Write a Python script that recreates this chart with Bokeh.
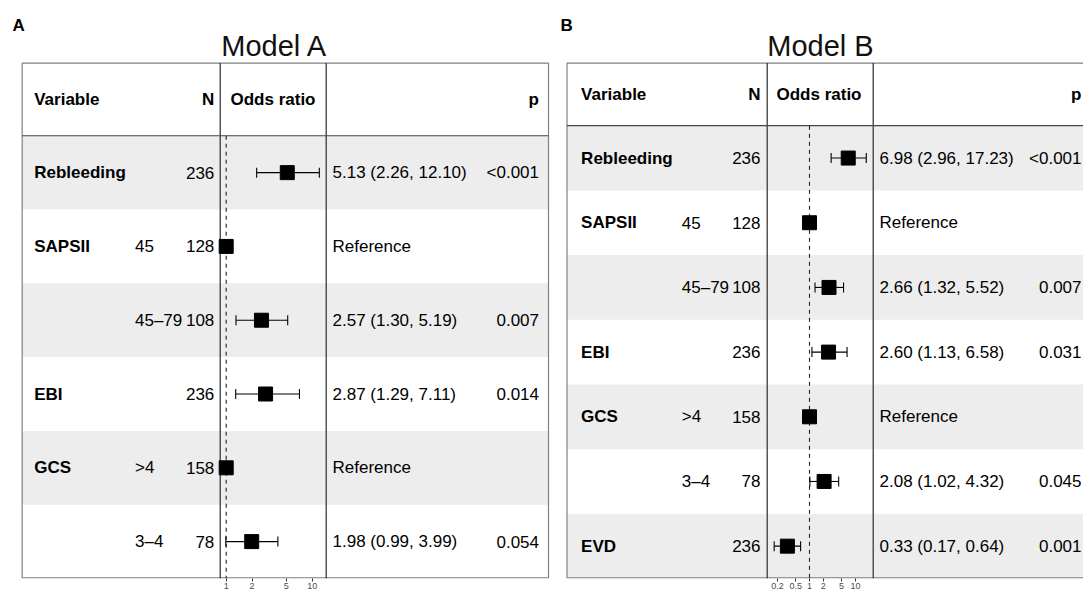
import math
from bokeh.plotting import figure
from bokeh.models import (Range1d, LogScale, LogAxis, FixedTicker, ColumnDataSource,
                          Whisker, TeeHead)
from bokeh.layouts import row
from bokeh.embed import file_html
from bokeh.resources import INLINE
from bokeh.core.properties import value

NAN = float("nan")

# ---------------- data: Model A ----------------
A_VARIABLE = ["Rebleeding", "SAPSII", "", "EBI", "GCS", ""]
A_LEVEL = ["", "45", "45\u201379", "", ">4", "3\u20134"]
A_N = [236, 128, 108, 236, 158, 78]
A_OR = [5.13, 1.0, 2.57, 2.87, 1.0, 1.98]
A_LO = [2.26, NAN, 1.30, 1.29, NAN, 0.99]
A_HI = [12.10, NAN, 5.19, 7.11, NAN, 3.99]
A_P = ["<0.001", "", "0.007", "0.014", "", "0.054"]
A_TICKS = [1, 2, 5, 10]
A_TICK_LABELS = ["1", "2", "5", "10"]

# ---------------- data: Model B ----------------
B_VARIABLE = ["Rebleeding", "SAPSII", "", "EBI", "GCS", "", "EVD"]
B_LEVEL = ["", "45", "45\u201379", "", ">4", "3\u20134", ""]
B_N = [236, 128, 108, 236, 158, 78, 236]
B_OR = [6.98, 1.0, 2.66, 2.60, 1.0, 2.08, 0.33]
B_LO = [2.96, NAN, 1.32, 1.13, NAN, 1.02, 0.17]
B_HI = [17.23, NAN, 5.52, 6.58, NAN, 4.32, 0.64]
B_P = ["<0.001", "", "0.007", "0.031", "", "0.045", "0.001"]
B_TICKS = [0.2, 0.5, 1, 2, 5, 10]
B_TICK_LABELS = ["0.2", "0.5", "1", "2", "5", "10"]

HEADERS = ["Variable", "N", "Odds ratio", "p"]

FONT = "Liberation Sans"
FS = "17px"
FIG_H = 591
FRAME_H = 577

LAYOUT_A = dict(width=557, left=21.7, right=548, top=62.5, header_bottom=135,
                col1=219.7, col2=325.7, or1_x=225.7, decade=86.0,
                var_x=33.7, level_x=134.5, n_x=213.8, est_x=332, p_x=538.5,
                header_y=99, odds_x=230, title_x=274, title_y=45, tag_x=12, tag_y=24.5)
LAYOUT_B = dict(width=526, left=9.5, right=560, top=62.5, header_bottom=125,
                col1=209.7, col2=315.7, or1_x=252, decade=45.9,
                var_x=23.6, level_x=124.3, n_x=203, est_x=322, p_x=524,
                header_y=94, odds_x=219, title_x=263, title_y=45, tag_x=3, tag_y=24.5)


def est_label(o, lo, hi):
    if math.isnan(lo):
        return "Reference"
    return f"{o:.2f} ({lo:.2f}, {hi:.2f})"


def make_panel(tag, title, variable, level, n, ors, lo, hi, pval, ticks, tick_labels, L):
    width = L["width"]
    nrows = len(variable)
    row_h = (FRAME_H - L["header_bottom"]) / nrows
    p = figure(width=width, height=FIG_H, x_axis_type=None, y_axis_type=None,
               x_range=Range1d(0, width), y_range=Range1d(FRAME_H, 0),
               output_backend="svg", toolbar_location=None, min_border=0)
    p.outline_line_color = None
    p.background_fill_color = "white"
    p.border_fill_color = "white"
    p.extra_x_ranges = {"or": Range1d(10 ** (-L["or1_x"] / L["decade"]),
                                      10 ** ((width - L["or1_x"]) / L["decade"]))}
    p.extra_x_scales = {"or": LogScale()}
    p.extra_y_ranges = {"rows": Range1d(nrows, -L["header_bottom"] / row_h)}

    # row shading
    shaded = [i for i in range(nrows) if i % 2 == 0]
    p.quad(left=L["left"], right=L["right"], top=shaded, bottom=[i + 1 for i in shaded],
           fill_color="#EDEDED", line_color=None, y_range_name="rows")

    # frame and grid lines
    p.quad(left=L["left"], right=L["right"], top=L["top"], bottom=FRAME_H - 0.6,
           fill_color=None, line_color="#808080", line_width=1.2)
    p.segment(x0=[L["col1"], L["col2"]], y0=L["top"], x1=[L["col1"], L["col2"]], y1=FRAME_H,
              line_color="#2b2b2b", line_width=1.2)
    p.segment(x0=L["left"], y0=L["header_bottom"], x1=L["right"], y1=L["header_bottom"],
              line_color="#444444", line_width=1.2)

    # reference line at OR = 1
    p.segment(x0=1, x1=1, y0=0, y1=nrows, x_range_name="or", y_range_name="rows",
              line_color="#222222", line_width=1.1, line_dash="4 4")

    # tag and title
    p.text(x=L["tag_x"], y=L["tag_y"], text=[tag], text_font=value(FONT), text_font_size="17px",
           text_font_style="bold", text_baseline="middle", text_align="left", text_color="black")
    p.text(x=L["title_x"], y=L["title_y"], text=[title], text_font=value(FONT),
           text_font_size="29px", text_baseline="middle", text_align="center", text_color="#111111")

    # headers
    hx = [L["var_x"], L["n_x"], L["odds_x"], L["p_x"]]
    ha = ["left", "right", "left", "right"]
    for x, t, a in zip(hx, HEADERS, ha):
        p.text(x=x, y=L["header_y"], text=[t], text_font=value(FONT), text_font_size=FS,
               text_font_style="bold", text_baseline="middle", text_align=a, text_color="black")

    ys = [i + 0.5 for i in range(nrows)]
    src = ColumnDataSource(dict(
        y=ys, var=variable, level=level, n=[str(v) for v in n],
        est=[est_label(o, a, b) for o, a, b in zip(ors, lo, hi)], p=pval, orv=ors))

    common = dict(source=src, text_font=value(FONT), text_font_size=FS, text_baseline="middle",
                  text_color="black", y_range_name="rows")
    p.text(x=L["var_x"], y="y", text="var", text_align="left", text_font_style="bold", **common)
    p.text(x=L["level_x"], y="y", text="level", text_align="left", **common)
    p.text(x=L["n_x"], y="y", text="n", text_align="right", **common)
    p.text(x=L["est_x"], y="y", text="est", text_align="left", **common)
    p.text(x=L["p_x"], y="y", text="p", text_align="right", **common)

    # confidence intervals
    ci = [i for i in range(nrows) if not math.isnan(lo[i])]
    ci_src = ColumnDataSource(dict(y=[ys[i] for i in ci], lo=[lo[i] for i in ci],
                                   hi=[hi[i] for i in ci]))
    w = Whisker(source=ci_src, base="y", lower="lo", upper="hi", dimension="width",
                x_range_name="or", y_range_name="rows", line_color="black", line_width=1.1,
                upper_head=TeeHead(size=10, line_color="black", line_width=1.1),
                lower_head=TeeHead(size=10, line_color="black", line_width=1.1),
                level="annotation")
    p.add_layout(w)

    p.scatter(x="orv", y="y", source=src, marker="square", size=14, fill_color="black",
              line_color="black", x_range_name="or", y_range_name="rows", level="overlay")

    ax = LogAxis(x_range_name="or", ticker=FixedTicker(ticks=ticks, minor_ticks=[]))
    ax.axis_line_color = None
    ax.major_tick_line_color = "#333333"
    ax.major_tick_out = 3
    ax.major_tick_in = 0
    ax.minor_tick_line_color = None
    ax.major_label_standoff = 1
    ax.major_label_text_font = FONT
    ax.major_label_text_font_size = "9px"
    ax.major_label_text_color = "#4D4D4D"
    ax.major_label_overrides = {t: s for t, s in zip(ticks, tick_labels)}
    p.add_layout(ax, "below")
    return p


pA = make_panel("A", "Model A", A_VARIABLE, A_LEVEL, A_N, A_OR, A_LO, A_HI, A_P,
                A_TICKS, A_TICK_LABELS, LAYOUT_A)
pB = make_panel("B", "Model B", B_VARIABLE, B_LEVEL, B_N, B_OR, B_LO, B_HI, B_P,
                B_TICKS, B_TICK_LABELS, LAYOUT_B)

layout = row(pA, pB, spacing=0)
open("out.html", "w").write(file_html(layout, INLINE))
